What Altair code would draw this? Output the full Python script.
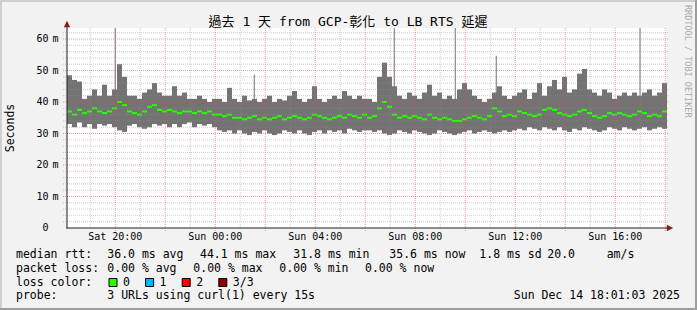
import altair as alt
import pandas as pd

# ---------------- data ----------------
# time axis: hours since Sat 00:00; one column every 12 minutes
T_START = 18.07
T_END = 42.03
STEP = 0.2

hi_ms = [48.5, 47, 46.5, 41, 42, 44, 42, 45.5, 42, 44,
         52, 48, 42, 42, 41, 43, 44, 46, 43, 42,
         42, 45, 42, 43, 41, 41, 42, 41, 40, 41,
         41, 40, 44.5, 41, 40, 42, 40.5, 41, 40, 41,
         42, 40, 41, 40.5, 42, 43.5, 41, 40, 41, 45,
         41, 40, 41, 42, 41, 43.5, 42, 41, 42, 41,
         41, 40, 48, 52.5, 48, 45, 42, 41, 43, 42,
         41, 43, 45.5, 42, 43, 41, 42, 41, 44, 46,
         44, 42, 41, 40, 41, 43, 45, 42, 41, 42,
         43, 44, 41, 43, 46, 42, 45, 47, 44, 48,
         43, 44, 49, 50.5, 44, 43, 42, 44, 43, 41,
         42, 43, 42, 43, 42, 43, 44, 42, 43, 46]
lo_ms = [33, 32, 33.5, 32, 33, 31.5, 33, 32.5, 33, 32,
         31, 30.5, 32.5, 33, 32, 31.5, 32, 33, 32.5, 33,
         32, 33, 32, 33, 33.5, 32, 33, 32.5, 33, 32,
         31, 30.5, 31, 30, 31, 30, 29.5, 30.5, 30, 31,
         30, 29.5, 30, 31, 30.5, 30, 31, 30, 29.5, 30.5,
         31, 30, 31, 30.5, 31, 30, 31.5, 31, 30.5, 31,
         31, 30.5, 31, 30, 29.5, 30, 31, 30.5, 30, 31,
         30.5, 30, 29.5, 30, 31, 30.5, 30, 29.5, 30, 30.5,
         31, 30, 30.5, 31, 30.5, 30, 30.5, 31, 30.5, 31,
         31.5, 31, 32, 31.5, 31, 32, 31.5, 31, 32, 31,
         30.5, 31.5, 31, 32, 31.5, 31, 30.5, 31, 32, 31.5,
         31, 32, 31.5, 31, 31.5, 32, 31, 31.5, 32, 31.5]
med_ms = [37, 36, 37.5, 36.5, 37, 38, 37, 36.5, 37, 38,
          40, 39, 37, 36.5, 36, 37, 38.5, 39, 37.5, 37,
          37.5, 37, 36.5, 37, 37, 36.5, 37, 36.5, 37, 36,
          36, 35.5, 36, 35, 35, 34.5, 35, 35.5, 34.5, 35,
          34.5, 35, 35.5, 34.5, 35, 35.5, 35, 34.5, 35, 36,
          35.5, 35, 34.5, 35, 35.5, 35, 36, 35.5, 35, 36,
          35, 35.5, 38, 40, 38.5, 36, 35, 35.5, 35, 35.5,
          35, 34.5, 36, 35, 34.5, 35, 34.5, 34, 34, 34.5,
          35, 35.5, 35, 34.5, 35.5, 38, 37, 35.5, 36, 35.5,
          37, 36.5, 36, 35.5, 36, 37.5, 38, 37.5, 36.5, 36,
          35.5, 36, 37, 37.5, 36.5, 35.5, 35, 35.5, 36.5, 36,
          36.5, 36, 35.5, 36, 37, 36.5, 35.5, 36, 35.5, 37]

# single-sample spikes (time in hours, top in ms)
spike_t = [20.0, 25.56, 31.16, 33.6, 35.24, 40.99]
spike_top = [63.5, 48.7, 63.5, 63.5, 54.7, 63.5]
spike_base = [40, 40, 40, 40, 40, 40]

y_ticks = [0, 10, 20, 30, 40, 50, 60]
y_tick_nums = ["0", "10", "20", "30", "40", "50", "60"]
y_tick_units = ["", "m", "m", "m", "m", "m", "m"]
x_ticks = [20, 24, 28, 32, 36, 40]
x_tick_labels = ["Sat 20:00", "Sun 00:00", "Sun 04:00", "Sun 08:00", "Sun 12:00", "Sun 16:00"]

TITLE = "過去 1 天 from GCP-彰化 to LB RTS 延遲"
legend_rtt = ["median rtt:", "36.0 ms avg", "44.1 ms max", "31.8 ms min",
              "35.6 ms now", "1.8 ms sd", "20.0", "am/s"]
legend_loss = ["packet loss:", "0.00 % avg", "0.00 % max", "0.00 % min", "0.00 % now"]
loss_title = "loss color:"
loss_labels = ["0", "1", "2", "3/3"]
loss_colors = ["#26ff00", "#00b8ff", "#ff0000", "#8f0000"]
probe_text = ["probe:", "3 URLs using curl(1) every 15s"]
stamp = "Sun Dec 14 18:01:03 2025"
y_title = "Seconds"
watermark = "RRDTOOL / TOBI OETIKER"

# ---------------- layout ----------------
L, T = 67, 28           # plot origin in the picture
W, H = 599, 200         # plot area
FONT = "DejaVu Sans Mono, Noto Sans CJK TC"
SMOKE = "#737373"

n = len(hi_ms)
df = pd.DataFrame({
    "t0": [T_START + STEP * i for i in range(n)],
    "t1": [T_START + STEP * (i + 1) for i in range(n)],
    "lo": lo_ms, "hi": hi_ms, "med": med_ms,
})
spikes = pd.DataFrame({"ts": spike_t, "top": spike_top, "base": spike_base})
xt = pd.DataFrame({"v": x_ticks, "lab": x_tick_labels})
yt = pd.DataFrame({"v": y_ticks, "num": y_tick_nums, "unit": y_tick_units})

xscale = alt.Scale(domain=[T_START, T_END], nice=False, zero=False)
yscale = alt.Scale(domain=[0, 63.5], nice=False, zero=True)

smoke = alt.Chart(df).mark_rect(color=SMOKE).encode(
    x=alt.X("t0:Q", scale=xscale, axis=None),
    x2="t1:Q",
    y=alt.Y("lo:Q", scale=yscale, axis=None),
    y2="hi:Q",
)
spike_layer = alt.Chart(spikes).mark_rule(color=SMOKE, strokeWidth=1).encode(
    x=alt.X("ts:Q", axis=None), y=alt.Y("base:Q", axis=None), y2="top:Q")
median = alt.Chart(df).mark_rule(color=loss_colors[0], strokeWidth=2).encode(
    x=alt.X("t0:Q", axis=None), x2="t1:Q", y=alt.Y("med:Q", axis=None))

minor_h = pd.DataFrame({"gy": [v for v in range(2, 64, 2) if v % 10]})
major_h = pd.DataFrame({"gy": [v for v in range(10, 64, 10)]})
minor_v = pd.DataFrame({"gx": [h for h in range(19, 43) if h % 2]})
major_v = pd.DataFrame({"gx": [h for h in range(20, 43, 2)]})

GRID = dict(color="#8f8f8f", opacity=0.45, strokeWidth=1, strokeDash=[1, 1])
MGRID = dict(color="#de4f4f", opacity=0.55, strokeWidth=1, strokeDash=[1, 1])

g1 = alt.Chart(minor_h).mark_rule(**GRID).encode(
    y=alt.Y("gy:Q", axis=None), x=alt.value(-4), x2=alt.value(W + 3))
g2 = alt.Chart(major_h).mark_rule(**MGRID).encode(
    y=alt.Y("gy:Q", axis=None), x=alt.value(-4), x2=alt.value(W + 3))
g3 = alt.Chart(minor_v).mark_rule(**GRID).encode(
    x=alt.X("gx:Q", axis=None), y=alt.value(0), y2=alt.value(H))
g4 = alt.Chart(major_v).mark_rule(**MGRID).encode(
    x=alt.X("gx:Q", axis=None), y=alt.value(0), y2=alt.value(H + 3))

# tick labels placed through the shared scales
xlab = alt.Chart(xt).mark_text(font=FONT, fontSize=10, align="center", baseline="top",
                               color="black").encode(
    x=alt.X("v:Q", axis=None), y=alt.value(H + 3.5), text="lab:N")
ynum = alt.Chart(yt).mark_text(font=FONT, fontSize=10, align="right", baseline="middle",
                               color="black").encode(
    y=alt.Y("v:Q", axis=None), x=alt.value(-18.5), text="num:N")
yunit = alt.Chart(yt).mark_text(font=FONT, fontSize=10, align="left", baseline="middle",
                                color="black").encode(
    y=alt.Y("v:Q", axis=None), x=alt.value(-14.6), text="unit:N")

one = pd.DataFrame({"a": [0]})

def rule(ax1, ay1, ax2, ay2, color, width=1.0):
    return alt.Chart(one).mark_rule(color=color, strokeWidth=width).encode(
        x=alt.value(ax1 - L), y=alt.value(ay1 - T),
        x2=alt.value(ax2 - L), y2=alt.value(ay2 - T))

def txt(s, ax, ay, size=11.5, align="left", baseline="middle", color="black", angle=None):
    kw = dict(font=FONT, fontSize=size, align=align, baseline=baseline, color=color)
    if angle is not None:
        kw["angle"] = angle
    return alt.Chart(one).mark_text(**kw).encode(
        x=alt.value(ax - L), y=alt.value(ay - T), text=alt.value(s))

layers = [smoke, spike_layer, median, g1, g3, g2, g4, xlab, ynum, yunit]

# axis lines and arrows
layers.append(rule(67, 23, 67, 228.5, "#1f1f1f"))
layers.append(rule(66.5, 228, 670, 228, "#1f1f1f"))
arrow_up = "M -1 1 L 1 1 L 0 -1 Z"
arrow_right = "M -1 -1 L -1 1 L 1 0 Z"
layers.append(alt.Chart(one).mark_point(shape=arrow_up, filled=True, color="#801f1f",
                                        size=40, opacity=1).encode(
    x=alt.value(0), y=alt.value(24 - T)))
layers.append(alt.Chart(one).mark_point(shape=arrow_right, filled=True, color="#801f1f",
                                        size=40, opacity=1).encode(
    x=alt.value(670 - L), y=alt.value(228 - T)))

# frame (3-D border)
layers.append(rule(0, 1, 697, 1, "#cfcfcf", 2))
layers.append(rule(1, 0, 1, 310, "#cfcfcf", 2))
layers.append(rule(0, 309, 697, 309, "#9e9e9e", 2))
layers.append(rule(696, 0, 696, 310, "#9e9e9e", 2))

# titles
layers.append(txt(TITLE, 348, 21.5, size=13, align="center"))
layers.append(txt(y_title, 10.5, 128, size=11.5, align="center", angle=270))
layers.append(txt(watermark, 688, 5, size=8.5, align="left", color="#aaaaaa", angle=90))

# legend
rtt_x = [16, 107.3, 200, 293.3, 389.3, 479.3, 547.3, 606.7]
for s, xx in zip(legend_rtt, rtt_x):
    layers.append(txt(s, xx, 254.5))
loss_x = [16, 107.3, 193.3, 279.3, 365]
for s, xx in zip(legend_loss, loss_x):
    layers.append(txt(s, xx, 268.5))
layers.append(txt(loss_title, 16, 282.5))
for i, (lab, col) in enumerate(zip(loss_labels, loss_colors)):
    sx = 109 + 36.6 * i
    layers.append(alt.Chart(one).mark_rect(color=col, stroke="black", strokeWidth=1).encode(
        x=alt.value(sx - L), x2=alt.value(sx + 8 - L),
        y=alt.value(278.5 - T), y2=alt.value(286.5 - T)))
    layers.append(txt(lab, sx + 14, 282.5))
layers.append(txt(probe_text[0], 16, 296))
layers.append(txt(probe_text[1], 107.3, 296))
layers.append(txt(stamp, 680, 296, align="right"))

chart = alt.layer(*layers).properties(
    width=W, height=H,
    padding={"left": L, "top": T, "right": 697 - L - W, "bottom": 310 - T - H},
    autosize=alt.AutoSizeParams(type="none"),
    background="#f2f2f2",
).configure_view(fill="white", stroke=None)

chart.save("out.html", embed_options={"renderer": "svg", "actions": False})
